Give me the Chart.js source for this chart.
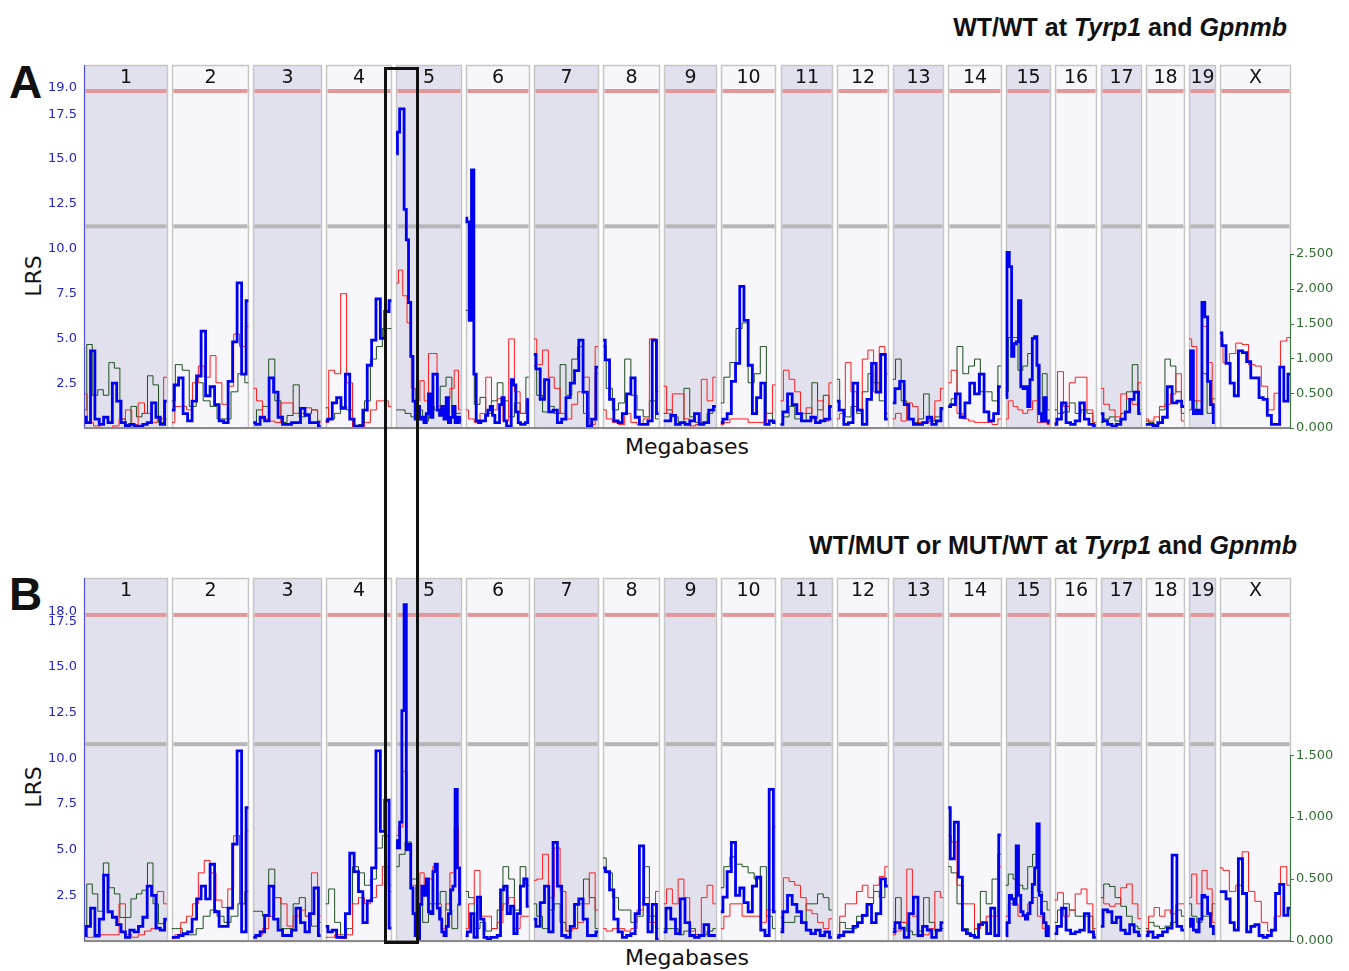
<!DOCTYPE html>
<html>
<head>
<meta charset="utf-8">
<title>LRS genome scans</title>
<script src="https://cdn.jsdelivr.net/npm/chart.js@4.4.1/dist/chart.umd.min.js"></script>
<style>
    body { margin: 0; width: 1349px; height: 971px; background: #fff; position: relative; overflow: hidden; font-family: 'DejaVu Sans', Verdana, sans-serif; }
    canvas { position: absolute; left: 0; }
    #chartA { top: 60px; }
    #chartB { top: 573px; }
    .title { position: absolute; font-family: 'Liberation Sans', Arial, sans-serif; font-weight: bold; font-size: 25px; line-height: 25px; white-space: nowrap; color: #111; }
    .letter { position: absolute; left: 9px; font-family: 'Liberation Sans', Arial, sans-serif; font-weight: bold; font-size: 46px; line-height: 46px; color: #111; }
    .xlabel { position: absolute; left: 587px; width: 200px; text-align: center; font-size: 22px; line-height: 22px; color: #111; }
    .ylabel { position: absolute; left: 4px; width: 60px; text-align: center; font-size: 22px; line-height: 22px; color: #111; transform: rotate(-90deg); }
    #focusBox { position: absolute; left: 384px; top: 67px; width: 35px; height: 877px; box-sizing: border-box; border: 3px solid #111; z-index: 5; }
</style>
</head>
<body>
<div class="title" style="right: 62px; top: 15px;">WT/WT at <i>Tyrp1</i> and <i>Gpnmb</i></div>
<div class="title" style="right: 52px; top: 533px;">WT/MUT or MUT/WT at <i>Tyrp1</i> and <i>Gpnmb</i></div>
<div class="letter" style="top: 59px;">A</div>
<div class="letter" style="top: 571px;">B</div>
<div class="ylabel" style="top: 265px;">LRS</div>
<div class="ylabel" style="top: 776px;">LRS</div>
<div class="xlabel" style="top: 436px;">Megabases</div>
<div class="xlabel" style="top: 947px;">Megabases</div>
<canvas id="chartA" width="1349" height="380"></canvas>
<canvas id="chartB" width="1349" height="380"></canvas>
<div id="focusBox"></div>

<script>
// Chromosomes and their lengths (Mb)
const chromosomes = ['1', '2', '3', '4', '5', '6', '7', '8', '9', '10', '11', '12', '13', '14', '15', '16', '17', '18', '19', 'X'];
const chromLengthsMb = [197, 182, 160, 156, 153, 150, 153, 132, 124, 130, 122, 121, 120, 125, 104, 98, 95, 91, 61, 167];

// Axis ticks
const lrsTicksA = [2.5, 5.0, 7.5, 10.0, 12.5, 15.0, 17.5, 19.0];
const addTicksA = [0, 0.5, 1.0, 1.5, 2.0, 2.5];
const lrsTicksB = [2.5, 5.0, 7.5, 10.0, 12.5, 15.0, 17.5, 18.0];
const addTicksB = [0, 0.5, 1.0, 1.5];

// Significant / suggestive LRS thresholds
const thresholdsA = [18.8, 11.25];
const thresholdsB = [17.84, 10.77];

// Panel A: LRS (blue), one list per chromosome
const lrsA = [
    [0.6, 0.3, 4.3, 0.5, 0.2, 0.6, 0.3, 2.5, 1.5, 0.3, 0.1, 0.2, 0.1, 0.1, 0.2, 0.3, 1.4, 0.6, 0.2, 1.5],
    [1.0, 2.4, 2.8, 0.8, 0.4, 1.5, 2.9, 5.4, 1.8, 2.3, 1.3, 0.4, 0.3, 2.6, 4.8, 8.1, 3.0, 7.1],
    [0.3, 0.2, 0.6, 0.4, 2.8, 2.0, 0.6, 0.2, 0.2, 0.3, 0.3, 1.1, 0.7, 0.3, 0.3, 0.1],
    [0.4, 0.5, 1.4, 1.7, 1.1, 3.0, 0.5, 0.1, 0.1, 1.0, 3.5, 4.9, 7.2, 5.0, 6.5, 7.1],
    [15.3, 16.5, 17.8, 17.8, 12.2, 10.5, 7.0, 4.0, 1.5, 0.5, 1.2, 0.5, 0.6, 0.3, 0.8, 1.9, 0.6, 3.0, 3.0, 1.0, 0.7, 1.2, 0.5, 1.7, 0.3, 0.6, 1.2, 0.3, 0.6, 0.3],
    [11.7, 11.5, 6.0, 14.4, 3.0, 0.4, 0.3, 0.4, 0.4, 0.7, 1.0, 1.2, 0.7, 0.3, 0.3, 1.3, 1.7, 0.4, 0.1, 0.1, 2.7, 2.4, 0.9, 0.3, 0.2, 0.2, 0.3, 1.6],
    [4.1, 3.3, 1.6, 2.7, 0.9, 1.0, 0.3, 0.5, 1.7, 2.5, 3.2, 4.9, 2.0, 0.1, 0.5, 3.4],
    [4.9, 3.8, 1.6, 0.4, 0.3, 0.8, 1.9, 2.8, 0.6, 0.2, 0.2, 0.4, 4.9, 0.8],
    [0.4, 0.4, 0.7, 0.2, 0.3, 0.2, 0.4, 0.8, 0.2, 0.3, 1.0, 1.2],
    [0.3, 0.5, 0.8, 2.6, 3.6, 7.9, 6.0, 3.5, 0.8, 1.7, 2.5, 0.2, 0.4, 0.3],
    [0.2, 0.9, 1.9, 1.3, 0.8, 0.4, 0.4, 0.6, 0.3, 0.4, 0.5, 1.2],
    [1.5, 1.0, 0.2, 0.3, 2.5, 1.0, 0.2, 1.6, 3.6, 2.0, 4.1, 0.5],
    [1.4, 2.2, 2.6, 1.3, 0.5, 0.2, 0.2, 0.3, 0.6, 0.2, 0.4, 1.1],
    [1.2, 1.3, 1.9, 0.6, 1.4, 2.5, 1.9, 3.0, 0.9, 0.4, 0.8, 2.3],
    [1.7, 9.8, 9.0, 4.0, 4.7, 4.8, 7.1, 2.3, 2.2, 2.3, 1.2, 2.7, 5.0, 5.1, 3.5, 0.8, 0.4, 1.7, 0.4, 0.3],
    [0.2, 0.5, 1.4, 0.3, 0.2, 0.4, 1.4, 0.5, 0.2, 0.1],
    [0.8, 0.4, 0.2, 0.1, 0.2, 0.5, 0.9, 1.6, 2.0, 0.8],
    [0.2, 0.2, 0.1, 0.3, 0.6, 2.3, 1.4, 1.5, 1.2],
    [1.6, 4.3, 0.8, 1.0, 0.8, 7.0, 6.2, 2.6, 1.3, 0.3],
    [5.3, 4.6, 3.6, 2.5, 1.8, 4.3, 4.2, 3.7, 2.8, 2.8, 1.7, 1.6, 0.7, 0.2, 0.2, 3.4, 1.5, 3.0]
];

// Panel A: additive effect (red), right axis
const addRedA = [
    [0.49, 0.08, 0.03, 0, 0, 0.03, 0.13, 0.26, 0.05, 0.36, 0.21, 0.08, 0.13, 0.73],
    [0.08, 0.31, 0.31, 0.26, 0.65, 0.89, 0.73, 1.04, 0.65, 0.34, 0.6, 1.35, 1.17, 1.46],
    [0.57, 0.39, 0.13, 0.1, 0.08, 0.36, 0.36, 0.21, 0.21, 0.29, 0.26, 0.08],
    [0.08, 0.83, 0.78, 1.93, 0.65, 0, 0, 0.08, 0.26, 0.39, 0.39, 0.31],
    [2.08, 2.27, 1.9, 1.51, 0.57, 0.39, 0.68, 0.39, 1.07, 1.07, 0.31, 0.21, 0.42, 0.57, 0.83, 0.26],
    [0.26, 0.13, 0.08, 0.21, 0.73, 0.26, 0.42, 0.1, 1.28, 0.52, 0.21, 0.39],
    [1.28, 0.91, 1.12, 0.73, 0.57, 0.21, 0.13, 0.34, 0.52, 0.73, 0.05, 1.17],
    [0.26, 0.13, 0.08, 0.05, 0.21, 0.08, 0.05, 0.13, 1.28, 0.52],
    [0.6, 0.21, 0.49, 0.49, 0.13, 0.03, 0.05, 0.7, 0.39, 0.73],
    [0.05, 0.08, 0.13, 0.13, 0.13, 0.08, 0.08, 0.08, 0.21, 0.62],
    [0.39, 0.83, 0.7, 0.52, 0.21, 0.29, 0.13, 0.39, 0.1, 0.65],
    [0.13, 0.21, 0.94, 0.52, 0.26, 0.99, 1.12, 0.52, 1.17, 0.78],
    [0.13, 0.21, 0.1, 0.36, 0.31, 0.08, 0.08, 0.13, 0.39, 0.57],
    [0.65, 0.83, 0.21, 0.13, 0.1, 0.08, 0.08, 0.08, 0.05, 0.13],
    [0.13, 0.39, 0.31, 0.26, 0.21, 0.26, 0.39, 0.08, 0.08, 0.05],
    [0.08, 0.81, 0.31, 0.65, 0.73, 0.73, 0.26, 0.08],
    [0.57, 0.34, 0.26, 0.16, 0.49, 0.42, 0.34, 0.65],
    [0.13, 0.1, 0.16, 0.31, 0.34, 0.49, 0.78, 0.1],
    [1.28, 1.17, 0.39, 1.46, 0.94, 0.21],
    [1.28, 0.94, 1.07, 1.22, 1.2, 0.91, 0.89, 0.6, 0.26, 0.5, 1.25, 1.3]
];

// Panel A: dominance effect (green), right axis
const addGreenA = [
    [0.26, 1.2, 0.47, 0.55, 0.47, 0.94, 0.86, 0.13, 0.05, 0.31, 0.16, 0.21, 0.75, 0.62, 0.08, 0.13],
    [0.39, 0.91, 0.83, 0.31, 0.65, 0.39, 0.31, 0.13, 0.13, 0.52, 0.78, 0.65],
    [0.08, 0.26, 0.31, 0.99, 0.39, 0.08, 0.18, 0.62, 0.16, 0.21, 0.26, 0.1],
    [0.29, 0.13, 0.21, 0.31, 0.26, 0.03, 0.05, 0.39, 0.99, 1.17, 1.43, 1.43],
    [0.26, 0.26, 0.21, 0.16, 0.26, 0.1, 0.31, 0.26, 0.6, 0.73, 0.21, 0.21],
    [1.69, 1.56, 0.34, 0.44, 0.21, 0.39, 0.65, 0.39, 0.16, 0.36, 0.21, 0.73],
    [0.89, 0.47, 0.23, 0.31, 0.21, 0.91, 0.47, 0.99, 1.17, 0.21, 0.13, 0.78],
    [1.17, 0.57, 0.26, 0.36, 0.99, 0.47, 0.26, 0.16, 0.39, 0.13],
    [0.21, 0.26, 0.16, 0.08, 0.57, 0.16, 0.08, 0.08, 0.21, 0.26],
    [0.36, 0.73, 0.94, 1.43, 1.51, 0.65, 0.78, 1.17, 0.21, 0.1],
    [0.05, 0.16, 0.31, 0.13, 0.1, 0.21, 0.65, 0.26, 0.47, 0.13],
    [0.7, 0.26, 0.16, 0.31, 0.21, 0.52, 0.78, 0.65, 0.39, 0.21],
    [0.7, 0.99, 0.39, 0.13, 0.08, 0.13, 0.49, 0.1, 0.16, 0.26],
    [0.31, 0.42, 1.17, 0.78, 0.89, 0.99, 0.52, 0.52, 0.39, 0.89],
    [0.52, 1.3, 1.3, 0.83, 0.89, 1.07, 1.3, 0.21, 0.78, 0.26],
    [0.26, 0.21, 0.23, 0.36, 0.21, 0.26, 0.21, 0.05],
    [0.08, 0.13, 0.16, 0.1, 0.21, 0.52, 0.91, 0.26],
    [0.1, 0.08, 0.05, 0.26, 0.99, 0.89, 0.52, 0.21],
    [0.26, 0.39, 0.26, 0.78, 0.21, 0.42],
    []
];

// Panel B: LRS (blue)
const lrsB = [
    [0.3, 0.8, 1.8, 0.3, 1.2, 3.6, 1.6, 1.3, 0.9, 0.5, 0.2, 0.6, 0.5, 0.8, 1.3, 3.0, 2.5, 0.7, 0.6, 1.2],
    [0.2, 0.2, 0.3, 0.4, 0.5, 1.2, 2.3, 3.0, 2.3, 4.2, 1.6, 0.8, 0.8, 1.8, 5.3, 10.4, 0.5, 7.3],
    [0.2, 0.3, 0.5, 1.4, 3.0, 1.2, 0.6, 0.3, 0.3, 0.6, 1.8, 1.0, 0.5, 1.5, 2.9, 0.3],
    [0.8, 0.5, 0.6, 0.2, 0.2, 1.5, 4.8, 3.8, 2.7, 1.0, 2.2, 4.0, 10.4, 6.0, 7.7, 0.7],
    [5.5, 5.1, 6.5, 12.6, 18.4, 5.0, 5.3, 2.9, 1.5, 0.3, 0.1, 2.0, 3.0, 2.5, 3.4, 1.6, 1.5, 3.8, 4.2, 1.8, 1.2, 0.5, 0.3, 0.8, 1.5, 2.8, 3.0, 8.3, 4.0, 2.0],
    [0.3, 0.5, 1.5, 0.2, 2.4, 1.2, 0.2, 0.1, 0.2, 0.2, 0.3, 2.8, 3.0, 1.5, 1.9, 0.4, 1.5, 3.0, 3.4, 1.9],
    [1.2, 0.8, 2.1, 3.0, 0.5, 5.4, 3.0, 0.3, 0.2, 0.8, 2.0, 2.3, 1.2, 0.3, 0.3, 0.5],
    [4.0, 3.8, 2.8, 1.2, 0.5, 0.2, 0.3, 0.4, 1.5, 5.2, 2.0, 0.5, 2.0, 0.1],
    [0.5, 1.8, 1.2, 0.4, 2.3, 1.0, 0.3, 0.2, 0.3, 0.9, 0.3, 0.3],
    [1.6, 2.4, 3.8, 5.4, 2.5, 2.9, 2.1, 1.6, 3.0, 3.5, 0.6, 0.3, 8.3, 1.6],
    [0.5, 1.6, 2.5, 2.0, 1.6, 1.0, 0.6, 0.4, 0.6, 0.3, 0.5, 0.2],
    [0.2, 0.3, 0.5, 0.5, 0.8, 1.0, 1.4, 2.0, 1.0, 1.5, 3.4, 3.0],
    [0.5, 1.0, 0.7, 0.2, 1.5, 2.4, 0.3, 0.8, 0.6, 0.2, 0.6, 1.0],
    [7.3, 4.5, 6.5, 3.5, 0.6, 0.4, 0.3, 0.2, 0.9, 1.0, 0.4, 1.8, 0.3, 5.8],
    [0.3, 1.0, 2.5, 2.3, 2.0, 5.2, 2.5, 1.6, 1.4, 1.2, 1.5, 2.1, 3.1, 4.0, 6.4, 2.5, 1.5, 1.0, 0.3, 0.8],
    [0.4, 0.8, 1.8, 0.6, 0.4, 0.5, 0.6, 1.5, 0.5, 0.2],
    [0.8, 1.7, 1.6, 1.0, 1.3, 0.6, 0.4, 0.9, 0.5, 0.3],
    [0.3, 0.5, 0.2, 0.3, 0.5, 0.7, 4.7, 0.8, 0.6],
    [0.8, 1.2, 0.6, 0.5, 1.2, 2.5, 2.4, 1.5, 0.8, 0.4],
    [2.7, 2.7, 2.3, 1.0, 0.6, 4.5, 2.6, 0.5, 0.8, 0.9, 0.3, 0.2, 0.3, 0.6, 2.6, 3.1, 1.4, 1.8]
];

// Panel B: additive effect (red)
const addRedB = [
    [0.05, 0.03, 0.03, 0.05, 0.05, 0.05, 0.3, 0.05, 0.03, 0.05, 0.08, 0.1, 0.4, 0.3],
    [0.02, 0.05, 0.15, 0.2, 0.3, 0.55, 0.65, 0.55, 0.33, 0.27, 0.42, 0.85, 0.3, 0.89],
    [0.03, 0.05, 0.1, 0.2, 0.35, 0.3, 0.12, 0.2, 0.25, 0.2, 0.55, 0.2],
    [0.03, 0.03, 0.05, 0.02, 0.05, 0.3, 0.35, 0.3, 0.35, 0.45, 0.6, 0.4],
    [0.85, 0.92, 1.37, 0.78, 0.45, 0.2, 0.55, 0.45, 0.5, 0.6, 0.3, 0.1, 0.3, 0.55, 0.92, 0.4],
    [0.1, 0.3, 0.57, 0.2, 0.2, 0.1, 0.15, 0.3, 0.35, 0.1, 0.2, 0.2],
    [0.49, 0.5, 0.7, 0.35, 0.75, 0.4, 0.08, 0.1, 0.15, 0.3, 0.55, 0.25],
    [0.1, 0.08, 0.1, 0.1, 0.08, 0.1, 0.25, 0.35, 0.15, 0.4],
    [0.3, 0.42, 0.3, 0.5, 0.35, 0.08, 0.05, 0.35, 0.45, 0.3],
    [0.1, 0.2, 0.3, 0.3, 0.2, 0.2, 0.2, 0.15, 0.25, 0.92],
    [0.19, 0.51, 0.48, 0.45, 0.35, 0.25, 0.22, 0.15, 0.1, 0.18],
    [0.05, 0.2, 0.3, 0.3, 0.4, 0.45, 0.35, 0.45, 0.52, 0.6],
    [0.05, 0.08, 0.15, 0.58, 0.2, 0.05, 0.05, 0.1, 0.4, 0.35],
    [0.85, 0.8, 0.45, 0.3, 0.3, 0.1, 0.15, 0.2, 0.2, 0.6],
    [0.2, 0.3, 0.3, 0.2, 0.2, 0.3, 0.35, 0.2, 0.1, 0.1],
    [0.33, 0.39, 0.2, 0.25, 0.38, 0.42, 0.3, 0.1],
    [0.35, 0.3, 0.28, 0.3, 0.43, 0.46, 0.3, 0.18],
    [0.08, 0.2, 0.27, 0.2, 0.25, 0.22, 0.3, 0.3],
    [0.35, 0.54, 0.3, 0.57, 0.42, 0.15],
    [0.59, 0.57, 0.4, 0.45, 0.72, 0.4, 0.32, 0.15, 0.08, 0.2, 0.6, 0.45]
];

// Panel B: dominance effect (green)
const addGreenB = [
    [0.08, 0.46, 0.38, 0.24, 0.63, 0.43, 0.38, 0.19, 0.19, 0.34, 0.38, 0.41, 0.63, 0.3, 0.14, 0.16],
    [0.1, 0.1, 0.05, 0.05, 0.1, 0.2, 0.25, 0.2, 0.15, 0.2, 0.3, 0.4],
    [0.24, 0.24, 0.2, 0.58, 0.35, 0.1, 0.1, 0.3, 0.35, 0.2, 0.12, 0.15],
    [0.3, 0.42, 0.15, 0.05, 0.1, 0.6, 0.55, 0.45, 0.5, 0.75, 0.85, 0.45],
    [0.6, 0.7, 0.8, 0.5, 0.3, 0.15, 0.3, 0.3, 0.4, 0.25, 0.1, 0.3],
    [0.4, 0.35, 0.1, 0.15, 0.08, 0.1, 0.25, 0.6, 0.5, 0.25, 0.6, 0.45],
    [0.3, 0.2, 0.1, 0.25, 0.3, 0.15, 0.08, 0.1, 0.3, 0.5, 0.35, 0.1],
    [0.67, 0.55, 0.35, 0.25, 0.25, 0.15, 0.2, 0.6, 0.2, 0.1],
    [0.1, 0.1, 0.1, 0.05, 0.08, 0.1, 0.05, 0.05, 0.08, 0.1],
    [0.43, 0.6, 0.68, 0.62, 0.6, 0.55, 0.5, 0.6, 0.2, 0.1],
    [0.1, 0.15, 0.15, 0.2, 0.15, 0.3, 0.3, 0.38, 0.35, 0.25],
    [0.05, 0.15, 0.1, 0.1, 0.2, 0.2, 0.3, 0.4, 0.35, 0.45],
    [0.1, 0.35, 0.15, 0.08, 0.05, 0.08, 0.35, 0.15, 0.08, 0.1],
    [0.6, 0.55, 0.3, 0.1, 0.05, 0.1, 0.4, 0.3, 0.5, 0.7],
    [0.45, 0.54, 0.5, 0.45, 0.42, 0.6, 0.7, 0.4, 0.32, 0.25],
    [0.15, 0.25, 0.3, 0.25, 0.2, 0.2, 0.2, 0.05],
    [0.35, 0.46, 0.44, 0.35, 0.28, 0.2, 0.12, 0.1],
    [0.1, 0.15, 0.12, 0.1, 0.12, 0.15, 0.25, 0.2],
    [0.3, 0.2, 0.15, 0.2, 0.2, 0.3],
    []
];

// Genome layout: chromosomes laid end to end with a small gap
const GAP_MB = 12;
const chromStarts = [];
let runningMb = 0;
chromLengthsMb.forEach(len => { chromStarts.push(runningMb); runningMb += len + GAP_MB; });
const genomeEnd = runningMb - GAP_MB;

// Turn per-chromosome lists into {x, y} points, broken between chromosomes
function buildSeries(perChrom) {
    const points = [];
    perChrom.forEach((vals, c) => {
        if (!vals.length) return;
        const start = chromStarts[c];
        const len = chromLengthsMb[c];
        vals.forEach((v, i) => points.push({ x: start + len * i / (vals.length - 1), y: v }));
        points.push({ x: start + len + GAP_MB / 2, y: null });
    });
    return points;
}

// Chromosome bands, labels, threshold bars and axis lines
const genomePlot = {
    id: 'genomePlot',
    beforeDatasetsDraw(chart, args, opts) {
        const { ctx, chartArea: a, scales: { x, y } } = chart;
        ctx.save();
        chromosomes.forEach((name, c) => {
            const x0 = Math.round(x.getPixelForValue(chromStarts[c])) + 0.5;
            const x1 = Math.round(x.getPixelForValue(chromStarts[c] + chromLengthsMb[c])) + 0.5;
            ctx.fillStyle = c % 2 === 0 ? '#e1e1ee' : '#f6f6fb';
            ctx.fillRect(x0, a.top, x1 - x0, a.bottom - a.top);
            ctx.strokeStyle = '#c6c6c6';
            ctx.lineWidth = 1.5;
            ctx.strokeRect(x0, a.top + 0.5, x1 - x0, a.bottom - a.top);

            const ySug = y.getPixelForValue(opts.suggestive);
            ctx.fillStyle = '#b6b6b6';
            ctx.fillRect(x0 + 1, ySug - 2, x1 - x0 - 2, 4);
            const ySig = y.getPixelForValue(opts.significant);
            ctx.fillStyle = '#e29898';
            ctx.fillRect(x0 + 1, ySig - 2, x1 - x0 - 2, 4);

            ctx.fillStyle = '#111';
            ctx.font = '19px "DejaVu Sans"';
            ctx.textAlign = 'center';
            ctx.textBaseline = 'middle';
            ctx.fillText(name, (x0 + x1) / 2, a.top + 13);
        });
        ctx.restore();
    },
    afterDatasetsDraw(chart, args, opts) {
        const { ctx, chartArea: a, scales: { y1 } } = chart;
        ctx.save();
        // left LRS axis
        ctx.strokeStyle = '#4a4ae6';
        ctx.lineWidth = 1;
        ctx.beginPath();
        ctx.moveTo(a.left + 0.5, a.top);
        ctx.lineTo(a.left + 0.5, a.bottom);
        ctx.stroke();
        // bottom axis
        ctx.strokeStyle = '#8a8a8a';
        ctx.lineWidth = 2;
        ctx.beginPath();
        ctx.moveTo(a.left, a.bottom);
        ctx.lineTo(a.right, a.bottom);
        ctx.stroke();
        // right effect axis
        const top = y1.getPixelForValue(opts.rightTicks[opts.rightTicks.length - 1]);
        ctx.strokeStyle = '#3d7a3d';
        ctx.lineWidth = 1;
        ctx.beginPath();
        ctx.moveTo(a.right + 0.5, a.bottom);
        ctx.lineTo(a.right + 0.5, top);
        opts.rightTicks.forEach(v => {
            const ty = Math.round(y1.getPixelForValue(v)) + 0.5;
            ctx.moveTo(a.right, ty);
            ctx.lineTo(a.right + 4, ty);
        });
        ctx.stroke();
        ctx.restore();
    }
};

// Fixed axis widths, no extra label padding above/below the plot
function fixAxis(width) {
    return s => {
        s.width = width;
        s.paddingTop = 0;
        s.paddingBottom = 0;
    };
}

function createScanChart(canvasId, cfg) {
    const ctx = document.getElementById(canvasId);
    if (!ctx) return null;

    const lineBase = { pointRadius: 0, stepped: 'middle', spanGaps: false, fill: false };

    return new Chart(ctx, {
        type: 'line',
        data: {
            datasets: [
                { ...lineBase, data: buildSeries(cfg.lrs), yAxisID: 'y', borderColor: '#0000f0', borderWidth: 2.8 },
                { ...lineBase, data: buildSeries(cfg.red), yAxisID: 'y1', borderColor: '#ff1c1c', borderWidth: 1 },
                { ...lineBase, data: buildSeries(cfg.green), yAxisID: 'y1', borderColor: '#1f4d1f', borderWidth: 1 }
            ]
        },
        options: {
            responsive: false,
            animation: false,
            layout: { padding: { top: 5, bottom: 12, left: 0, right: 0 } },
            plugins: {
                legend: { display: false },
                tooltip: { enabled: false },
                genomePlot: {
                    significant: cfg.thresholds[0],
                    suggestive: cfg.thresholds[1],
                    rightTicks: cfg.rightTicks
                }
            },
            scales: {
                x: { type: 'linear', display: false, min: 0, max: genomeEnd },
                y: {
                    position: 'left',
                    min: 0,
                    max: cfg.lrsMax,
                    afterFit: fixAxis(84),
                    afterBuildTicks: s => { s.ticks = cfg.leftTicks.map(v => ({ value: v })); },
                    ticks: {
                        autoSkip: false,
                        color: '#2424cc',
                        padding: 7,
                        font: { family: 'DejaVu Sans', size: 13 },
                        callback: v => v.toFixed(1)
                    },
                    grid: { display: false, drawTicks: false },
                    border: { display: false }
                },
                y1: {
                    position: 'right',
                    min: 0,
                    max: cfg.effectMax,
                    afterFit: fixAxis(59),
                    afterBuildTicks: s => { s.ticks = cfg.rightTicks.map(v => ({ value: v })); },
                    ticks: {
                        autoSkip: false,
                        color: '#2f6f2f',
                        padding: 6,
                        font: { family: 'DejaVu Sans', size: 13 },
                        callback: v => v.toFixed(3)
                    },
                    grid: { display: false, drawTicks: false },
                    border: { display: false }
                }
            }
        },
        plugins: [genomePlot]
    });
}

createScanChart('chartA', {
    lrs: lrsA, red: addRedA, green: addGreenA,
    thresholds: thresholdsA,
    leftTicks: lrsTicksA, rightTicks: addTicksA,
    lrsMax: 20.25, effectMax: 5.216
});

createScanChart('chartB', {
    lrs: lrsB, red: addRedB, green: addGreenB,
    thresholds: thresholdsB,
    leftTicks: lrsTicksB, rightTicks: addTicksB,
    lrsMax: 19.86, effectMax: 2.93
});
</script>
</body>
</html>
